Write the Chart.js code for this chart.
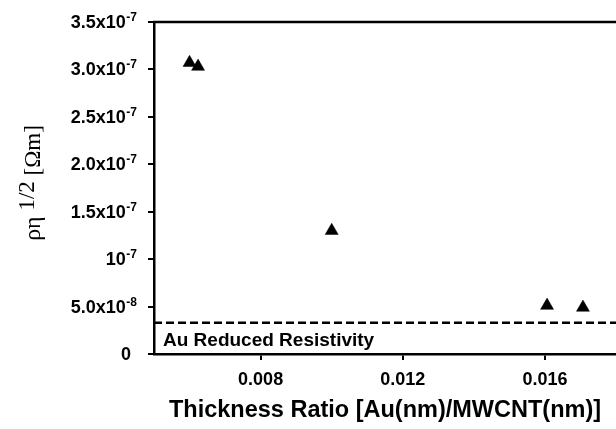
<!DOCTYPE html>
<html>
<head>
<meta charset="utf-8">
<script src="https://cdn.jsdelivr.net/npm/chart.js@4"></script>
<style>
  body { margin: 0; background: #fff; }
</style>
</head>
<body>
<canvas id="myChart" width="616" height="429"></canvas>
<script>
// measured points
const ratio = [0.006, 0.00624, 0.010, 0.01606, 0.01707];
const resist = [3.07e-7, 3.03e-7, 1.30e-7, 5.1e-8, 4.9e-8];
// Au reduced resistivity reference line
const auLevel = 3.3e-8;
const auRange = [0.005, 0.018];
const xTicks = [0.008, 0.012, 0.016];
const yTicks = [0, 5e-8, 1e-7, 1.5e-7, 2e-7, 2.5e-7, 3e-7, 3.5e-7];
const yTickLabels = ["0", "5.0x10^-8", "10^-7", "1.5x10^-7", "2.0x10^-7", "2.5x10^-7", "3.0x10^-7", "3.5x10^-7"];

const SANS = "'Liberation Sans', Arial, sans-serif";
const SERIF = "'Liberation Serif', 'Times New Roman', serif";

const extras = {
  id: "extras",
  afterDraw(chart) {
    const ctx = chart.ctx;
    const area = chart.chartArea;
    const ys = chart.scales.y;
    ctx.save();
    // top border
    ctx.strokeStyle = "#000";
    ctx.lineWidth = 2.5;
    ctx.beginPath();
    ctx.moveTo(area.left - 1, area.top);
    ctx.lineTo(area.right, area.top);
    ctx.stroke();

    // y tick labels with superscript exponents
    ctx.fillStyle = "#000";
    ctx.textBaseline = "alphabetic";
    ctx.textAlign = "right";
    const right = area.left - 17;
    yTicks.forEach((v, i) => {
      const y = ys.getPixelForValue(v);
      const parts = yTickLabels[i].split("^");
      let x = right;
      if (parts[1]) {
        ctx.font = "bold 12px " + SANS;
        ctx.fillText(parts[1], x, y - 1);
        x -= ctx.measureText(parts[1]).width + 0.5;
      } else {
        x = right - 6;
      }
      ctx.font = "bold 18px " + SANS;
      ctx.fillText(parts[0], x, y + 6);
    });

    // y title, rotated
    ctx.translate(28, 183);
    ctx.rotate(-Math.PI / 2);
    const segs = [
      { t: "\u03C1\u03B7", f: "24px " + SERIF, dy: 0 },
      { t: " 1/2", f: "23px " + SERIF, dy: -6 },
      { t: " [\u03A9m]", f: "23px " + SERIF, dy: 0 }
    ];
    let total = 0;
    segs.forEach(s => { ctx.font = s.f; total += ctx.measureText(s.t).width; });
    let cx = -total / 2;
    ctx.textAlign = "left";
    ctx.textBaseline = "middle";
    segs.forEach(s => {
      ctx.font = s.f;
      ctx.fillText(s.t, cx, 6 + s.dy);
      cx += ctx.measureText(s.t).width;
    });
    ctx.restore();

    // label for the dashed line
    ctx.save();
    ctx.fillStyle = "#000";
    ctx.font = "bold 19px " + SANS;
    ctx.textAlign = "left";
    ctx.textBaseline = "alphabetic";
    ctx.fillText("Au Reduced Resistivity", area.left + 9, area.bottom - 8);
    ctx.restore();
  }
};

const data = {
  datasets: [
    {
      type: "scatter",
      data: ratio.map((x, i) => ({ x: x, y: resist[i] })),
      pointStyle: "triangle",
      pointRadius: 7.5,
      backgroundColor: "#000",
      borderColor: "#000",
      borderWidth: 0.5
    },
    {
      type: "line",
      data: auRange.map(x => ({ x: x, y: auLevel })),
      borderColor: "#000",
      borderWidth: 2.5,
      borderDash: [8, 4],
      pointRadius: 0,
      fill: false
    }
  ]
};

const config = {
  type: "scatter",
  data: data,
  plugins: [extras],
  options: {
    responsive: false,
    animation: false,
    layout: { autoPadding: false, padding: { top: 22, right: 0, left: 0, bottom: 0 } },
    plugins: { legend: { display: false }, tooltip: { enabled: false } },
    scales: {
      x: {
        type: "linear",
        min: 0.005,
        max: 0.018,
        afterBuildTicks: (s) => { s.ticks = xTicks.map(v => ({ value: v })); },
        afterFit: (s) => { s.height = 75; s.paddingLeft = 0; s.paddingRight = 0; },
        grid: { drawOnChartArea: false, drawTicks: true, tickLength: 6, color: "#000", lineWidth: 2 },
        border: { color: "#000", width: 2.5 },
        ticks: {
          color: "#000",
          font: { family: SANS, size: 18, weight: "bold" },
          padding: 9,
          maxRotation: 0,
          callback: (v) => v.toFixed(3)
        },
        title: {
          display: true,
          text: "Thickness Ratio [Au(nm)/MWCNT(nm)]",
          color: "#000",
          font: { family: SANS, size: 23.5, weight: "bold" },
          padding: { top: 4, bottom: 4 }
        }
      },
      y: {
        type: "linear",
        min: 0,
        max: 3.5e-7,
        afterBuildTicks: (s) => { s.ticks = yTicks.map(v => ({ value: v })); },
        afterFit: (s) => { s.width = 154; s.paddingTop = 0; s.paddingBottom = 0; },
        grid: { drawOnChartArea: false, drawTicks: true, tickLength: 6, color: "#000", lineWidth: 2 },
        border: { color: "#000", width: 2.5 },
        ticks: { display: false }
      }
    }
  }
};

const myChart = new Chart(document.getElementById("myChart"), config);
</script>
</body>
</html>
